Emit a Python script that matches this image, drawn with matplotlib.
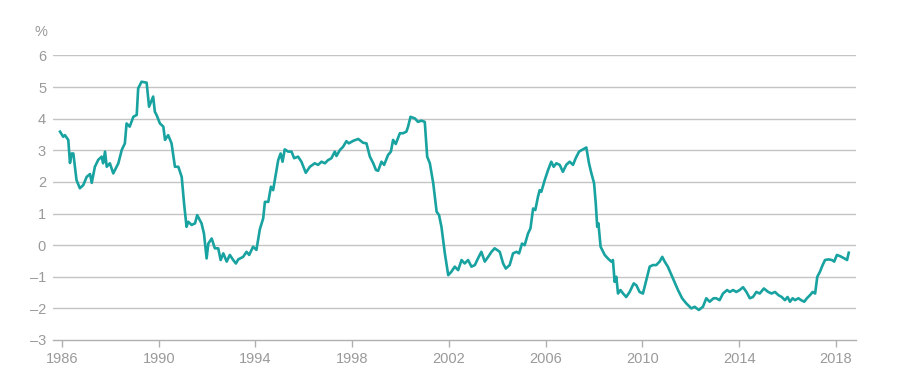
import numpy as np
import matplotlib
matplotlib.use("Agg")
import matplotlib.pyplot as plt

plt.rcParams["font.family"] = ["Liberation Sans", "DejaVu Sans"]

# values (year, %)
years = [
    1985.92, 1986.05, 1986.12, 1986.26, 1986.33, 1986.40, 1986.47, 1986.60, 1986.74, 1986.88,
    1987.02, 1987.16, 1987.23, 1987.36, 1987.50, 1987.64, 1987.70, 1987.78, 1987.85, 1987.98,
    1988.12, 1988.33, 1988.47, 1988.60, 1988.67, 1988.80, 1988.95, 1989.09, 1989.15, 1989.29,
    1989.50, 1989.60, 1989.77, 1989.84, 1989.91, 1990.05, 1990.19, 1990.26, 1990.39, 1990.53,
    1990.67, 1990.81, 1990.95, 1991.05, 1991.15, 1991.22, 1991.36, 1991.50, 1991.59, 1991.77,
    1991.87, 1991.98, 1992.05, 1992.19, 1992.32, 1992.46, 1992.56, 1992.67, 1992.81, 1992.94,
    1993.08, 1993.19, 1993.29, 1993.49, 1993.63, 1993.74, 1993.90, 1994.04, 1994.18, 1994.32,
    1994.39, 1994.53, 1994.64, 1994.73, 1994.80, 1994.94, 1995.04, 1995.12, 1995.21, 1995.35,
    1995.49, 1995.60, 1995.76, 1995.90, 1996.08, 1996.25, 1996.45, 1996.59, 1996.73, 1996.87,
    1997.00, 1997.14, 1997.28, 1997.35, 1997.49, 1997.62, 1997.76, 1997.86, 1998.04, 1998.25,
    1998.45, 1998.59, 1998.73, 1998.87, 1998.98, 1999.07, 1999.21, 1999.32, 1999.48, 1999.60,
    1999.69, 1999.80, 1999.97, 2000.10, 2000.24, 2000.31, 2000.41, 2000.59, 2000.72, 2000.86,
    2001.00, 2001.10, 2001.21, 2001.35, 2001.49, 2001.59, 2001.69, 2001.83, 2001.97, 2002.10,
    2002.24, 2002.38, 2002.52, 2002.65, 2002.79, 2002.93, 2003.07, 2003.20, 2003.34, 2003.48,
    2003.62, 2003.76, 2003.89, 2004.10, 2004.24, 2004.35, 2004.51, 2004.65, 2004.79, 2004.90,
    2005.02, 2005.13, 2005.27, 2005.37, 2005.48, 2005.57, 2005.68, 2005.75, 2005.82, 2005.96,
    2006.10, 2006.23, 2006.33, 2006.44, 2006.58, 2006.71, 2006.85, 2006.99, 2007.13, 2007.24,
    2007.38, 2007.54, 2007.68, 2007.79, 2007.89, 2008.00, 2008.07, 2008.13, 2008.18, 2008.27,
    2008.44, 2008.57, 2008.71, 2008.78, 2008.85, 2008.92, 2008.99, 2009.09, 2009.20, 2009.33,
    2009.47, 2009.64, 2009.75, 2009.88, 2010.02, 2010.16, 2010.30, 2010.43, 2010.57, 2010.71,
    2010.82, 2010.92, 2011.05, 2011.26, 2011.47, 2011.64, 2011.81, 2012.02, 2012.16, 2012.33,
    2012.50, 2012.64, 2012.78, 2012.94, 2013.05, 2013.19, 2013.33, 2013.50, 2013.61, 2013.75,
    2013.88, 2014.02, 2014.16, 2014.30, 2014.44, 2014.57, 2014.71, 2014.85, 2015.02, 2015.20,
    2015.34, 2015.48, 2015.62, 2015.76, 2015.89, 2016.00, 2016.10, 2016.21, 2016.31, 2016.45,
    2016.56, 2016.69, 2016.80, 2016.93, 2017.04, 2017.14, 2017.23, 2017.34, 2017.45, 2017.55,
    2017.69, 2017.83, 2017.93, 2018.04, 2018.18, 2018.35, 2018.46, 2018.53,
]
values = [
    3.59, 3.43, 3.48, 3.33, 2.60, 2.90, 2.90, 2.06, 1.80, 1.90,
    2.16, 2.25, 1.97, 2.48, 2.70, 2.80, 2.59, 2.96, 2.48, 2.59,
    2.27, 2.59, 3.01, 3.22, 3.85, 3.75, 4.06, 4.12, 4.96, 5.17,
    5.14, 4.38, 4.70, 4.22, 4.12, 3.85, 3.75, 3.33, 3.48, 3.22,
    2.48, 2.48, 2.16, 1.30, 0.58, 0.74, 0.64, 0.69, 0.95, 0.69,
    0.37, -0.42, 0.05, 0.21, -0.10, -0.10, -0.47, -0.26, -0.52, -0.31,
    -0.47, -0.58, -0.45, -0.37, -0.21, -0.31, -0.05, -0.15, 0.50, 0.85,
    1.37, 1.37, 1.85, 1.74, 2.06, 2.69, 2.90, 2.64, 3.03, 2.96,
    2.96, 2.75, 2.80, 2.64, 2.29, 2.48, 2.59, 2.54, 2.64, 2.59,
    2.69, 2.75, 2.96, 2.82, 3.01, 3.11, 3.29, 3.22, 3.30, 3.36,
    3.24, 3.22, 2.80, 2.59, 2.38, 2.35, 2.64, 2.54, 2.85, 2.96,
    3.33, 3.20, 3.54, 3.54, 3.59, 3.75, 4.06, 4.01, 3.90, 3.94,
    3.90, 2.80, 2.59, 1.96, 1.06, 0.95, 0.58, -0.26, -0.95, -0.84,
    -0.68, -0.79, -0.47, -0.58, -0.47, -0.68, -0.63, -0.42, -0.21, -0.52,
    -0.37, -0.21, -0.10, -0.21, -0.58, -0.74, -0.63, -0.26, -0.21, -0.26,
    0.05, 0.00, 0.37, 0.53, 1.16, 1.11, 1.53, 1.74, 1.69, 2.06,
    2.38, 2.64, 2.48, 2.59, 2.54, 2.32, 2.54, 2.64, 2.54, 2.75,
    2.96, 3.03, 3.09, 2.59, 2.27, 1.96, 1.32, 0.58, 0.69, -0.05,
    -0.31, -0.42, -0.52, -0.47, -1.16, -1.00, -1.53, -1.42, -1.53, -1.64,
    -1.48, -1.21, -1.27, -1.48, -1.53, -1.10, -0.68, -0.63, -0.63, -0.52,
    -0.37, -0.52, -0.68, -1.05, -1.42, -1.68, -1.84, -2.00, -1.95, -2.05,
    -1.95, -1.68, -1.79, -1.68, -1.68, -1.74, -1.53, -1.42, -1.48, -1.42,
    -1.48, -1.42, -1.33, -1.48, -1.68, -1.64, -1.48, -1.53, -1.37, -1.48,
    -1.53, -1.48, -1.58, -1.64, -1.74, -1.64, -1.79, -1.68, -1.74, -1.68,
    -1.74, -1.79, -1.68, -1.58, -1.48, -1.53, -1.00, -0.84, -0.63, -0.47,
    -0.45, -0.47, -0.52, -0.31, -0.35, -0.42, -0.47, -0.24,
]
yticks = [-3, -2, -1, 0, 1, 2, 3, 4, 5, 6]
xticks = [1986, 1990, 1994, 1998, 2002, 2006, 2010, 2014, 2018]

line_color = "#18a2a0"
grid_color = "#c4c4c4"
text_color = "#9a9a9a"

fig = plt.figure(figsize=(9.02, 3.83), dpi=100)
ax = fig.add_axes([0.0588, 0.1123, 0.8902, 0.7428])

ax.plot(years, values, color=line_color, linewidth=1.9, solid_joinstyle="round")

ax.set_xlim(1985.63, 2018.83)
ax.set_ylim(-3, 6)
ax.set_yticks(yticks)
ax.set_xticks(xticks)
ax.set_yticklabels([str(v).replace("-", "\u2013") for v in yticks])

for v in yticks[1:]:
    ax.axhline(v, color=grid_color, linewidth=1.0, zorder=0)

for s in ["top", "right", "left"]:
    ax.spines[s].set_visible(False)
ax.spines["bottom"].set_color("#b0b0b0")
ax.spines["bottom"].set_linewidth(1.0)

ax.tick_params(axis="y", length=0, pad=5, labelsize=10.5, labelcolor=text_color)
ax.tick_params(axis="x", length=5, width=1.0, color="#b0b0b0", pad=4,
               labelsize=10.5, labelcolor=text_color)

fig.text(0.052, 0.916, "%", color=text_color, fontsize=10.5, ha="right", va="center")

fig.savefig("out.png", dpi=100, facecolor="white")
